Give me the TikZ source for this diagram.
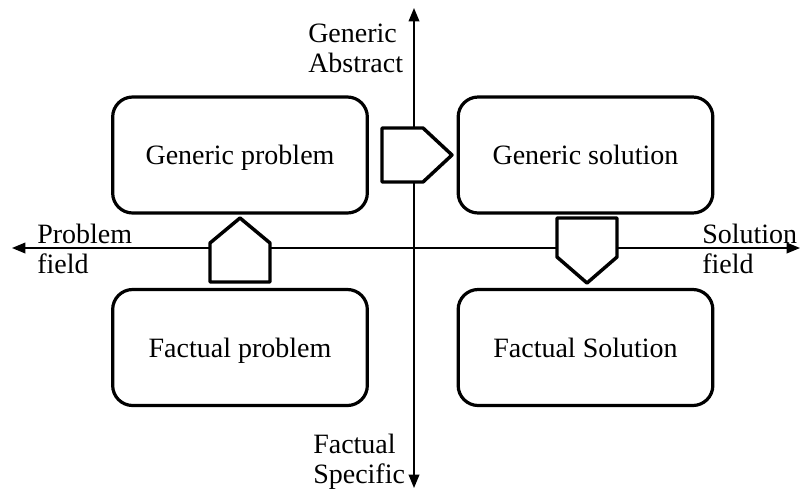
\documentclass[tikz,border=0pt]{standalone}
\usepackage{fontspec}
\setmainfont{Liberation Serif}
\usetikzlibrary{arrows.meta}
\begin{document}
\begin{tikzpicture}[x=0.75pt, y=-0.75pt, >={Triangle[length=10pt, width=8pt]},
box/.style={draw, line width=2.4pt, rounded corners=15pt, minimum width=191pt, minimum height=87pt, inner sep=0, text depth=0pt, font=\fontsize{21}{24}\selectfont},
axis/.style={<->, line width=1.1pt},
axislabel/.style={align=left, anchor=west, inner sep=0, font=\fontsize{21}{22.5}\selectfont},
pent/.style={line width=2.6pt, fill=white, line join=round}]
\useasboundingbox (0,0) rectangle (806,490);
%%%%%%%%%%%%%%%%%%%%%%% AXES %%%%%%%%%%%%%%%%%%%%%%%%%%%
\coordinate (W) at (12,248);
\coordinate (E) at (800,248);
\coordinate (N) at (414,8);
\coordinate (S) at (414,488);
\draw[axis] (W)--(E);
\draw[axis] (N)--(S);
\node[axislabel] (PF) at (37,248.5) {Problem\\field};
\node[axislabel] (SF) at (702,248.5) {Solution\\field};
\node[axislabel] (GA) at (308,48) {Generic\\Abstract};
\node[axislabel] (FS) at (313,462) {Factual\\Specific};
%%%%%%%%%%%%%%%%%%%%%%% BOXES %%%%%%%%%%%%%%%%%%%%%%%%%%%
\node[box] (GP) at (240,155) {Generic problem};
\node[box] (GS) at (585.5,155) {Generic solution};
\node[box] (FP) at (240,347.5) {Factual problem};
\node[box] (FSol) at (585.5,347.5) {Factual Solution};
%%%%%%%%%%%%%%%%%%%%%%% STEPS %%%%%%%%%%%%%%%%%%%%%%%%%%%
\draw[pent] (210,282)--(270,282)--(270,243)--(240,218)--(210,243)--cycle; % abstraction
\draw[pent] (382,128)--(423,128)--(452,155)--(423,182)--(382,182)--cycle; % solving
\draw[pent] (557,218)--(617,218)--(617,257)--(587,283)--(557,257)--cycle; % concretisation
\end{tikzpicture}
\end{document}
